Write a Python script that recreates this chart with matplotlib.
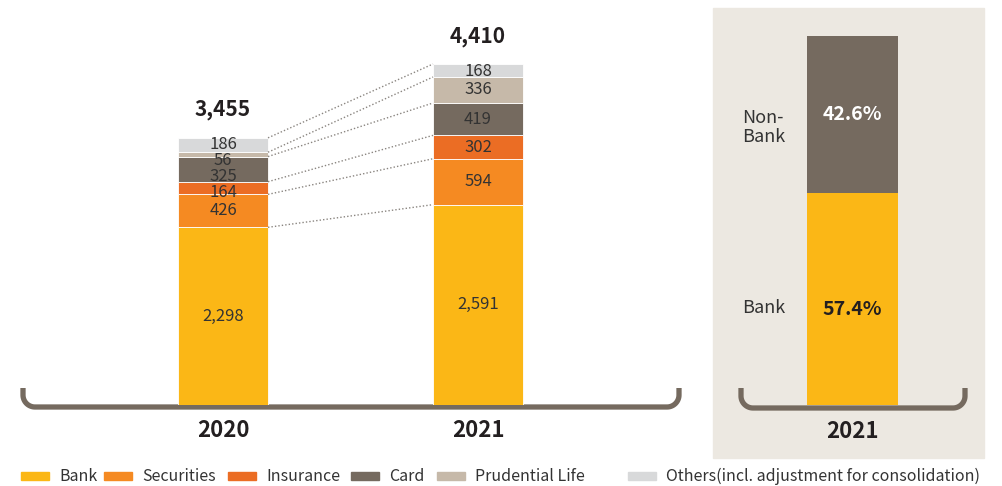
import numpy as np
import matplotlib
matplotlib.use("Agg")
import matplotlib.pyplot as plt
from matplotlib.patches import Rectangle

plt.rcParams['font.family'] = ['Noto Sans CJK KR', 'DejaVu Sans']

# data
years = ['2020', '2021']
segments = ['Bank', 'Securities', 'Insurance', 'Card', 'Prudential Life',
            'Others(incl. adjustment for consolidation)']
values = {
    '2020': [2298, 426, 164, 325, 56, 186],
    '2021': [2591, 594, 302, 419, 336, 168],
}
totals = ['3,455', '4,410']
colors = ['#fbb716', '#f58a22', '#eb6d24', '#756a5f', '#c6b9a9', '#d8d9da']

share_labels = ['Bank', 'Non-\nBank']
share_values = [57.4, 42.6]
share_colors = ['#fbb716', '#756a5f']

W, H = 1002, 486
fig = plt.figure(figsize=(W / 100, H / 100), dpi=100)

# overlay axes in pixel coords for decorations
deco = fig.add_axes([0, 0, 1, 1])
deco.set_xlim(0, W)
deco.set_ylim(H, 0)
deco.axis('off')
deco.add_patch(Rectangle((713, 8), 271, 450, color='#ece8e1', zorder=0))

# main stacked bars
ymax = 4410 * 405 / 341
px = ymax / 405  # data units per pixel
ax = fig.add_axes([0, (H - 405) / H, 700 / W, 405 / H])
ax.patch.set_alpha(0)
ax.set_xlim(-223 / 255, (700 - 223) / 255)
ax.set_ylim(0, ymax)
ax.axis('off')
bw = 90 / 255
x = np.arange(len(years))
gap = 16 * px
tops = []
for i, yr in enumerate(years):
    vals = np.array(values[yr])
    cum = np.cumsum(vals)
    bottoms = cum - vals
    ax.bar(x[i], vals, bw, bottom=bottoms, color=colors, edgecolor='white',
           linewidth=0.6)
    # label positions: centres, spread so they don't collide
    pos = list(bottoms + vals / 2)
    for k in range(1, len(pos)):
        pos[k] = max(pos[k], pos[k - 1] + gap)
    pos[-1] = min(pos[-1], cum[-1] - 7 * px)
    for k in range(len(pos) - 2, -1, -1):
        pos[k] = min(pos[k], pos[k + 1] - gap)
    for v, p in zip(vals, pos):
        ax.text(x[i], p, f'{v:,}', ha='center', va='center',
                fontsize=12, color='#333333', fontweight='light')
    tops.append(cum)
    ax.text(x[i], cum[-1] + 28 * px, totals[i], ha='center', va='center',
            fontsize=15, fontweight='bold', color='#231f20')

# dotted connectors
for a, b in zip(tops[0], tops[1]):
    ax.plot([x[0] + bw / 2, x[1] - bw / 2], [a, b], ls=(0, (1, 1.5)),
            color='#8a8580', lw=1)

for i, yr in enumerate(years):
    deco.text(223 + 255 * i, 430, yr, ha='center', va='center',
              fontsize=16, fontweight='bold', color='#231f20')


def bracket(x0, x1, ytop, ybot, r=12):
    th = np.linspace(np.pi, np.pi / 2, 20)
    lx = x0 + r + r * np.cos(th)
    ly = ybot - r + r * np.sin(th)
    th2 = np.linspace(np.pi / 2, 0, 20)
    rx = x1 - r + r * np.cos(th2)
    ry = ybot - r + r * np.sin(th2)
    xs = np.concatenate([[x0], lx, rx, [x1]])
    ys = np.concatenate([[ytop], ly, ry, [ytop]])
    deco.plot(xs, ys, color='#756a5f', lw=3.8, solid_capstyle='butt', zorder=5)


bracket(23, 679, 388, 407)
bracket(741, 965, 388, 408)

# right share bar
ax2 = fig.add_axes([807 / W, (H - 405) / H, 91 / W, 369 / H])
ax2.patch.set_alpha(0)
ax2.set_xlim(-0.5, 0.5)
ax2.set_ylim(0, 100)
ax2.axis('off')
b = 0
for lab, v, c in zip(share_labels, share_values, share_colors):
    ax2.bar(0, v, 1, bottom=b, color=c)
    bank = lab == 'Bank'
    txtc = '#231f20' if bank else 'white'
    ax2.text(0, b + v * (0.45 if bank else 0.5), f'{v}%', ha='center',
             va='center', fontsize=14, fontweight='bold', color=txtc)
    ax2.text(-0.98, b + v * (0.46 if bank else 0.42), lab, ha='center',
             va='center', fontsize=13, color='#333333', linespacing=1.05,
             fontweight='light')
    b += v
deco.text(852, 431, '2021', ha='center', va='center', fontsize=16,
          fontweight='bold', color='#231f20')

# legend
patch_x = [21, 104, 228, 351, 437, 628]
for px0, c, lab in zip(patch_x, colors, segments):
    deco.add_patch(Rectangle((px0, 472), 28, 8, color=c))
    deco.text(px0 + 38, 476, lab, ha='left', va='center', fontsize=11.5,
              color='#333333', fontweight='light')

fig.savefig('out.png', dpi=100)
